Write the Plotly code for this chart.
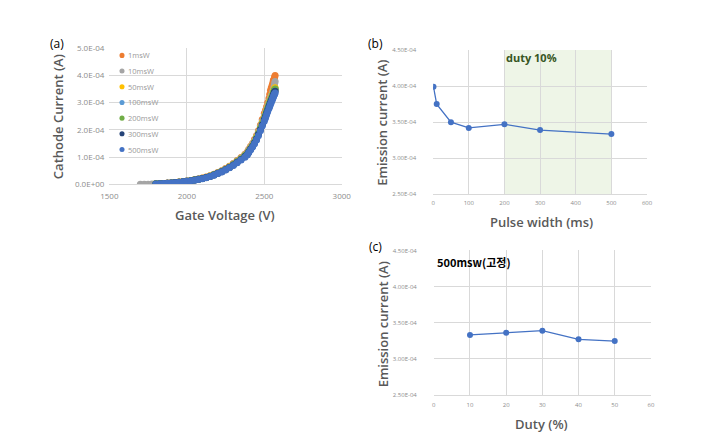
import plotly.graph_objects as go

# ---------------- Panel (a) data: gate voltage (V) vs cathode current (x1e-4 A)
v_grid = [1800, 1825, 1850, 1875, 1900, 1925, 1950, 1975, 2000, 2025, 2050, 2075,
          2100, 2125, 2150, 2175, 2200, 2225, 2250, 2275, 2300, 2325, 2350, 2375,
          2390, 2400, 2412, 2425, 2437, 2450, 2462, 2475, 2487, 2500, 2508, 2515,
          2522, 2530, 2535, 2540, 2545, 2550, 2554, 2558, 2561, 2564, 2567, 2570]
v_gray_start = [1700, 1725, 1750, 1775]
i_gray_start = [0.005, 0.008, 0.012, 0.017]

i_1msw = [0.024, 0.032, 0.041, 0.051, 0.062, 0.075, 0.090, 0.107, 0.127, 0.149, 0.176, 0.204,
          0.237, 0.275, 0.319, 0.374, 0.440, 0.506, 0.583, 0.671, 0.770, 0.880, 0.990, 1.11,
          1.19, 1.29, 1.40, 1.51, 1.65, 1.79, 1.97, 2.17, 2.38, 2.60, 2.72, 2.85,
          3.00, 3.15, 3.30, 3.45, 3.54, 3.62, 3.70, 3.80, 3.83, 3.88, 3.94, 4.00]
i_10msw = [0.024, 0.031, 0.040, 0.050, 0.060, 0.073, 0.089, 0.105, 0.124, 0.146, 0.173, 0.200,
           0.232, 0.270, 0.313, 0.367, 0.432, 0.497, 0.572, 0.659, 0.756, 0.864, 0.972, 1.09,
           1.16, 1.26, 1.37, 1.48, 1.61, 1.76, 1.93, 2.13, 2.32, 2.51, 2.64, 2.76,
           2.88, 3.01, 3.10, 3.18, 3.25, 3.32, 3.39, 3.46, 3.53, 3.62, 3.70, 3.78]
i_50msw = [0.023, 0.031, 0.039, 0.049, 0.059, 0.072, 0.087, 0.103, 0.122, 0.143, 0.170, 0.196,
           0.228, 0.265, 0.307, 0.360, 0.424, 0.488, 0.562, 0.647, 0.742, 0.848, 0.954, 1.07,
           1.14, 1.24, 1.35, 1.45, 1.58, 1.73, 1.90, 2.09, 2.27, 2.46, 2.59, 2.71,
           2.83, 2.96, 3.04, 3.12, 3.19, 3.26, 3.32, 3.39, 3.44, 3.49, 3.52, 3.55]
i_100msw = [0.023, 0.030, 0.038, 0.048, 0.058, 0.071, 0.085, 0.101, 0.120, 0.140, 0.166, 0.192,
            0.224, 0.260, 0.302, 0.354, 0.416, 0.478, 0.551, 0.634, 0.728, 0.832, 0.936, 1.05,
            1.12, 1.22, 1.32, 1.43, 1.55, 1.70, 1.87, 2.05, 2.23, 2.42, 2.55, 2.67,
            2.79, 2.91, 2.99, 3.07, 3.14, 3.21, 3.27, 3.33, 3.38, 3.43, 3.46, 3.49]
i_200msw = [0.023, 0.030, 0.038, 0.048, 0.058, 0.071, 0.085, 0.101, 0.120, 0.140, 0.166, 0.192,
            0.224, 0.260, 0.302, 0.354, 0.416, 0.478, 0.551, 0.634, 0.728, 0.832, 0.936, 1.05,
            1.12, 1.22, 1.32, 1.42, 1.55, 1.70, 1.86, 2.05, 2.23, 2.41, 2.54, 2.66,
            2.78, 2.90, 2.98, 3.06, 3.13, 3.20, 3.26, 3.33, 3.38, 3.42, 3.46, 3.50]
i_300msw = [0.022, 0.030, 0.038, 0.047, 0.057, 0.069, 0.084, 0.099, 0.117, 0.138, 0.163, 0.189,
            0.219, 0.255, 0.296, 0.347, 0.408, 0.469, 0.541, 0.622, 0.714, 0.816, 0.918, 1.03,
            1.10, 1.19, 1.30, 1.40, 1.52, 1.66, 1.83, 2.01, 2.18, 2.37, 2.49, 2.61,
            2.72, 2.85, 2.92, 3.00, 3.07, 3.14, 3.20, 3.26, 3.31, 3.36, 3.39, 3.42]
i_500msw = [0.022, 0.029, 0.037, 0.046, 0.056, 0.068, 0.082, 0.097, 0.115, 0.135, 0.160, 0.185,
            0.215, 0.250, 0.290, 0.340, 0.400, 0.460, 0.530, 0.610, 0.700, 0.800, 0.900, 1.00,
            1.08, 1.17, 1.27, 1.37, 1.49, 1.63, 1.79, 1.97, 2.14, 2.32, 2.44, 2.56,
            2.67, 2.79, 2.86, 2.94, 3.01, 3.08, 3.14, 3.20, 3.24, 3.29, 3.32, 3.35]

series_names = ["1msW", "10msW", "50msW", "100msW", "200msW", "300msW", "500msW"]
series_colors = ["#ED7D31", "#A5A5A5", "#FFC000", "#5B9BD5", "#70AD47", "#264478", "#4472C4"]

a_yticks = [0, 1, 2, 3, 4, 5]
a_yticktext = ["0.0E+00", "1.0E-04", "2.0E-04", "3.0E-04", "4.0E-04", "5.0E-04"]
a_xticks = [1500, 2000, 2500, 3000]

# ---------------- Panel (b) data
pulse_width = [1, 10, 50, 100, 200, 300, 500]
emission_b = [3.99, 3.75, 3.50, 3.42, 3.47, 3.39, 3.335]

# ---------------- Panel (c) data
duty = [10, 20, 30, 40, 50]
emission_c = [3.33, 3.36, 3.39, 3.27, 3.245]

bc_yticks = [2.5, 3.0, 3.5, 4.0, 4.5]
bc_yticktext = ["2.50E-04", "3.00E-04", "3.50E-04", "4.00E-04", "4.50E-04"]

# page has an 8px body margin: figure is sized so that page == window
OFF = 8
W, H = 701 - 2 * OFF, 443 - 2 * OFF
def px(x):
    return (x - OFF) / W
def py(y):
    return 1 - (y - OFF) / H

FONT = "Open Sans"
GRID = "#d9d9d9"
TICK_A = dict(family=FONT, size=8, color="#8c8c8c")
TICK_BC = dict(family=FONT, size=6, color="#8c8c8c")

fig = go.Figure()

a_currents = [i_1msw, i_10msw, i_50msw, i_100msw, i_200msw, i_300msw, i_500msw]
for name, col, cur in zip(series_names, series_colors, a_currents):
    xs = list(v_grid)
    ys = list(cur)
    if name == "10msW":
        xs = v_gray_start + xs
        ys = i_gray_start + ys
    fig.add_trace(go.Scatter(x=xs, y=ys, mode="markers", name=name, showlegend=False,
                             marker=dict(color=col, size=7, line=dict(width=0)),
                             xaxis="x", yaxis="y"))

fig.add_trace(go.Scatter(x=pulse_width, y=emission_b, mode="lines+markers",
                         line=dict(color="#4472C4", width=1.3),
                         marker=dict(color="#4472C4", size=6),
                         showlegend=False, xaxis="x2", yaxis="y2"))
fig.add_trace(go.Scatter(x=duty, y=emission_c, mode="lines+markers",
                         line=dict(color="#4472C4", width=1.3),
                         marker=dict(color="#4472C4", size=6),
                         showlegend=False, xaxis="x3", yaxis="y3"))

axis_common = dict(showgrid=True, gridcolor=GRID, gridwidth=1, zeroline=False,
                   ticks="", fixedrange=True)

fig.update_layout(
    width=W, height=H,
    margin=dict(l=0, r=0, t=0, b=0),
    paper_bgcolor="white", plot_bgcolor="white",
    font=dict(family=FONT),
    showlegend=False,
    xaxis=dict(domain=[px(103), px(342)], range=[1500, 3000], tickvals=a_xticks,
               anchor="y", showline=True, linecolor=GRID, tickfont=TICK_A,
               ticklabelstandoff=4, **axis_common),
    yaxis=dict(domain=[py(183), py(43)], range=[0, 5], tickvals=a_yticks,
               ticktext=a_yticktext, anchor="x", tickfont=TICK_A,
               ticklabelstandoff=4, **axis_common),
    xaxis2=dict(domain=[px(436), px(656)], range=[0, 600], dtick=100,
                anchor="y2", showline=True, linecolor=GRID, tickfont=TICK_BC,
                ticklabelstandoff=3, **axis_common),
    yaxis2=dict(domain=[py(193), py(45)], range=[2.5, 4.5], tickvals=bc_yticks,
                ticktext=bc_yticktext, anchor="x2", tickfont=TICK_BC,
                ticklabelstandoff=16, **axis_common),
    xaxis3=dict(domain=[px(436.7), px(660)], range=[0, 60], dtick=10,
                anchor="y3", showline=True, linecolor=GRID, tickfont=TICK_BC,
                ticklabelstandoff=4, **axis_common),
    yaxis3=dict(domain=[py(399), py(250.7)], range=[2.5, 4.5], tickvals=bc_yticks,
                ticktext=bc_yticktext, anchor="x3", tickfont=TICK_BC,
                ticklabelstandoff=16, **axis_common),
)

fig.add_shape(type="rect", xref="x2", yref="y2 domain", x0=200, x1=500, y0=0, y1=1,
              fillcolor="#eef5e7", line=dict(width=0), layer="below")

# legend for panel (a), drawn inside the plot area (Excel style, compact spacing)
LEG_X, LEG_Y0, LEG_DY, LEG_R = 116, 50.5, 16.1, 2.6
for k, (name, col) in enumerate(zip(series_names, series_colors)):
    yc = LEG_Y0 + k * LEG_DY
    fig.add_shape(type="circle", xref="paper", yref="paper",
                  x0=px(LEG_X - LEG_R), x1=px(LEG_X + LEG_R),
                  y0=py(yc + LEG_R), y1=py(yc - LEG_R),
                  fillcolor=col, line=dict(width=0))
    fig.add_annotation(xref="paper", yref="paper", showarrow=False,
                       x=px(LEG_X + 4.5), y=py(yc), xanchor="left", yanchor="middle",
                       text=name, font=dict(family=FONT, size=7.5, color="#999999"))

title_font = dict(family=FONT, size=13, color="#595959", weight=600)
ann = [
    dict(text="(a)", x=px(49), y=py(38), font=dict(family=FONT, size=12, color="black")),
    dict(text="(b)", x=px(377), y=py(38), font=dict(family=FONT, size=12, color="black")),
    dict(text="(c)", x=px(377), y=py(247), font=dict(family=FONT, size=12, color="black")),
    dict(text="Cathode Current (A)", x=px(50), y=py(113), textangle=-90, font=title_font),
    dict(text="Gate Voltage (V)", x=px(222), y=py(214), font=title_font),
    dict(text="Emission current (A)", x=px(384), y=py(120), textangle=-90, font=title_font),
    dict(text="Pulse width (ms)", x=px(547), y=py(222), font=title_font),
    dict(text="Emission current (A)", x=px(384), y=py(327), textangle=-90, font=title_font),
    dict(text="Duty (%)", x=px(547), y=py(429), font=title_font),
    dict(text="duty 10%", x=px(537), y=py(53), font=dict(family=FONT, size=11, color="#375623", weight=700)),
    dict(text="500msw(고정)", x=px(478), y=py(263),
         font=dict(family="Noto Sans CJK KR", size=11, color="black", weight=600)),
]
for a in ann:
    fig.add_annotation(xref="paper", yref="paper", showarrow=False,
                       xanchor="center", yanchor="middle", **a)

fig.write_html("out.html")
